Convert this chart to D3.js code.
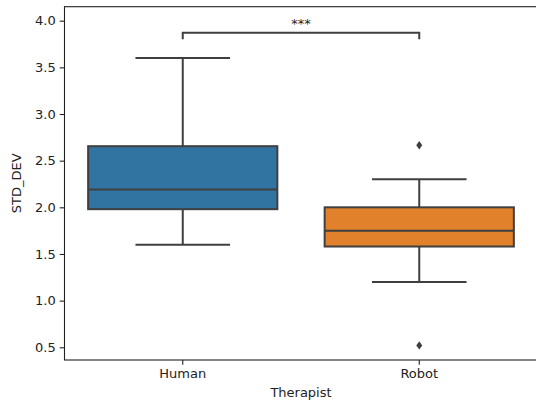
<!DOCTYPE html>
<html><head><meta charset="utf-8">
<script src="https://cdn.jsdelivr.net/npm/d3@7"></script>
<style>body{margin:0;background:#fff}svg{display:block}text{font-family:"DejaVu Sans",sans-serif}</style>
</head><body><svg id="c" width="536" height="405"></svg>
<script>
const categories = ["Human", "Robot"];
const colors = ["#3274a1", "#e1812c"];
const whiskerLow = [1.6, 1.2];
const q1 = [1.98, 1.58];
const median = [2.19, 1.75];
const q3 = [2.655, 2.0];
const whiskerHigh = [3.6, 2.3];
const outliers = [[], [2.665, 0.52]];
const yTicks = [0.5, 1.0, 1.5, 2.0, 2.5, 3.0, 3.5, 4.0];
const bracketY = 3.87, bracketTickY = 3.80, starLabel = "***";

const svg = d3.select("#c");
const L = 64.5, R = 537.5, T = 6.7, B = 360;
const x = d3.scaleBand().domain(categories).range([L, R]).padding(0);
const y = d3.scaleLinear().domain([0.3637, 4.150]).range([B, T]);
const bw = x.bandwidth() * 0.8;
const lc = "#3f3f3f", lw = 2;

const g = svg.append("g");
categories.forEach((c, i) => {
  const cx = x(c) + x.bandwidth() / 2;
  // whiskers
  g.append("line").attr("x1", cx).attr("x2", cx).attr("y1", y(q3[i])).attr("y2", y(whiskerHigh[i])).attr("stroke", lc).attr("stroke-width", lw);
  g.append("line").attr("x1", cx).attr("x2", cx).attr("y1", y(q1[i])).attr("y2", y(whiskerLow[i])).attr("stroke", lc).attr("stroke-width", lw);
  [whiskerHigh[i], whiskerLow[i]].forEach(v => {
    g.append("line").attr("x1", cx - bw / 4).attr("x2", cx + bw / 4).attr("y1", y(v)).attr("y2", y(v)).attr("stroke", lc).attr("stroke-width", lw);
  });
  g.append("rect").attr("x", cx - bw / 2).attr("width", bw).attr("y", y(q3[i])).attr("height", y(q1[i]) - y(q3[i]))
    .attr("fill", colors[i]).attr("stroke", lc).attr("stroke-width", lw);
  g.append("line").attr("x1", cx - bw / 2).attr("x2", cx + bw / 2).attr("y1", y(median[i])).attr("y2", y(median[i])).attr("stroke", lc).attr("stroke-width", lw);
  outliers[i].forEach(v => {
    const py = y(v);
    g.append("path").attr("d", `M${cx},${py - 4.2}L${cx + 3},${py}L${cx},${py + 4.2}L${cx - 3},${py}Z`).attr("fill", lc);
  });
});

// significance bracket
const x0 = x(categories[0]) + x.bandwidth() / 2, x1 = x(categories[1]) + x.bandwidth() / 2;
svg.append("path").attr("d", `M${x0},${y(bracketTickY)}L${x0},${y(bracketY)}L${x1},${y(bracketY)}L${x1},${y(bracketTickY)}`)
  .attr("fill", "none").attr("stroke", lc).attr("stroke-width", 2);
svg.append("text").attr("x", (x0 + x1) / 2).attr("y", y(bracketY) - 4.5).attr("text-anchor", "middle")
  .attr("font-size", 13).attr("fill", "#222").text(starLabel);

// axes
const ya = svg.append("g").attr("transform", `translate(${L},0)`).call(d3.axisLeft(y).tickValues(yTicks).tickFormat(d3.format(".1f")).tickSize(4.8).tickPadding(4));
const xa = svg.append("g").attr("transform", `translate(0,${B})`).call(d3.axisBottom(x).tickSize(4.8).tickPadding(4));
[ya, xa].forEach(a => {
  a.select(".domain").remove();
  a.selectAll("line").attr("stroke", "#222").attr("stroke-width", 1.1);
  a.selectAll("text").attr("font-size", 13).attr("fill", "#222").attr("font-family", "DejaVu Sans");
});
// spines
svg.append("rect").attr("x", L).attr("y", T).attr("width", R - L).attr("height", B - T)
  .attr("fill", "none").attr("stroke", "#222").attr("stroke-width", 1.1);

svg.append("text").attr("x", (L + R) / 2).attr("y", 397).attr("text-anchor", "middle").attr("font-size", 13).attr("fill", "#222").text("Therapist");
svg.append("text").attr("transform", `translate(21,${(T + B) / 2}) rotate(-90)`).attr("text-anchor", "middle").attr("font-size", 13).attr("fill", "#222").text("STD_DEV");
</script></body></html>
